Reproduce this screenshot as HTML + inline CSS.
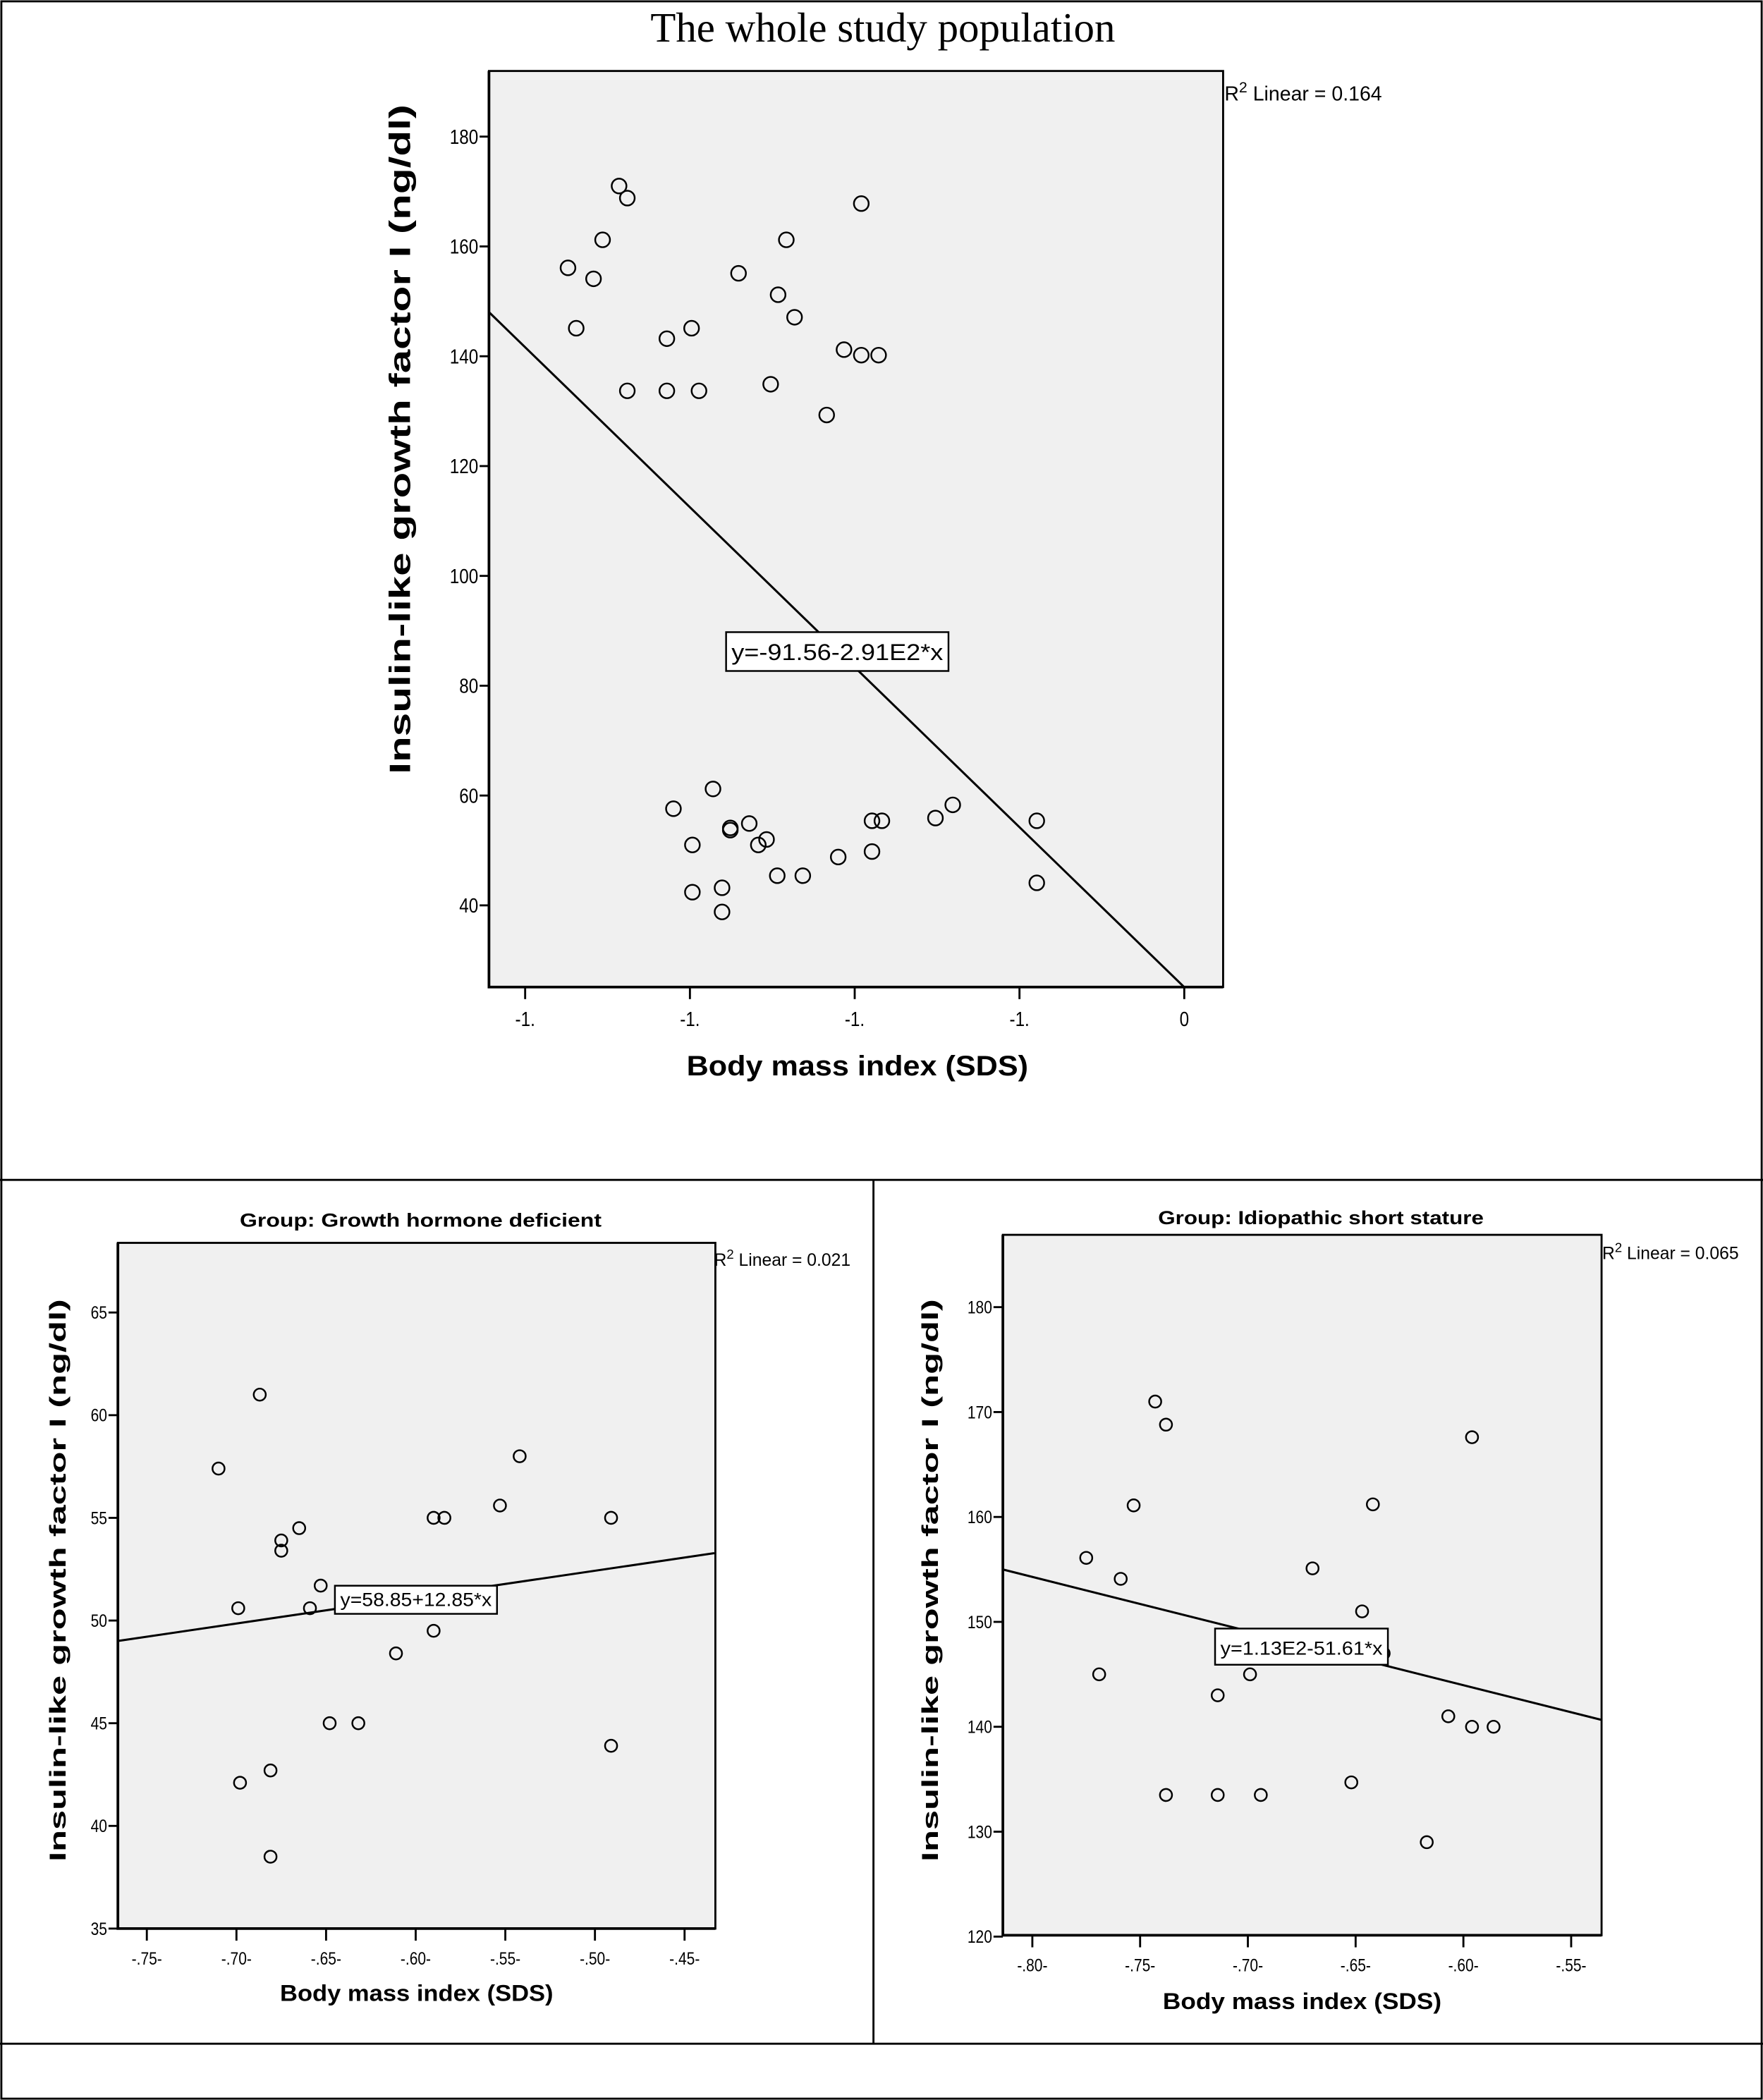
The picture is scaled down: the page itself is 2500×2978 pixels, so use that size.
<!DOCTYPE html>
<html><head><meta charset="utf-8">
<style>
html,body{margin:0;padding:0;background:#fff;}
svg{display:block;}
text{font-family:"Liberation Sans",Arial,sans-serif;fill:#000;}
</style></head>
<body>
<svg id="fig" xmlns="http://www.w3.org/2000/svg" width="2500" height="2978" viewBox="0 0 1316 1568" preserveAspectRatio="none">
<rect x="0" y="0" width="1316" height="1568" fill="#fff"/>
<rect x="1" y="1" width="1314" height="1566" fill="none" stroke="#000" stroke-width="1.5"/>
<line x1="0" y1="881" x2="1316" y2="881" stroke="#000" stroke-width="1.5"/>
<line x1="652" y1="881" x2="652" y2="1526" stroke="#000" stroke-width="1.5"/>
<line x1="0" y1="1526" x2="1316" y2="1526" stroke="#000" stroke-width="1.5"/>
<text x="659" y="31" text-anchor="middle" style="font-family:'Liberation Serif',serif;font-size:31px">The whole study population</text>
<g id="p1"></g>
<g id="p2"></g>
<g id="p3"></g>
</svg>
<script>
// ---- Plot 1: whole study population ----
const p1X = [-0.748,-0.738,-0.717,-0.706,-0.686,-0.676,-0.676,-0.628,-0.628,-0.598,-0.589,-0.541,-0.502,-0.493,-0.483,-0.473,-0.434,-0.413,-0.392,-0.392,-0.371,
 -0.620,-0.597,-0.597,-0.572,-0.561,-0.561,-0.551,-0.551,-0.528,-0.517,-0.507,-0.494,-0.463,-0.420,-0.379,-0.379,-0.367,-0.302,-0.281,-0.179,-0.179];
const p1Y = [156.1,145.1,154.1,161.2,171.0,168.8,133.7,143.2,133.7,145.1,133.7,155.1,134.9,151.2,161.2,147.1,129.3,141.2,167.8,140.2,140.2,
 57.6,51.0,42.4,61.2,43.2,38.8,54.1,53.7,54.9,51.0,52.0,45.4,45.4,48.8,55.4,49.8,55.4,55.9,58.3,55.4,44.1];
const p1YTicks = [40,60,80,100,120,140,160,180];
const p1XTicks = [-0.8,-0.6,-0.4,-0.2,0];
const p1XTickLabels = ["-1.","-1.","-1.","-1.","0"];
const p1RegX = [-0.844, 0];
const p1RegY = [148.05, 25.1];

// ---- Plot 2: Growth hormone deficient ----
const p2X = [-0.710,-0.699,-0.698,-0.687,-0.675,-0.675,-0.665,-0.681,-0.681,-0.659,-0.653,-0.648,-0.632,-0.611,-0.590,-0.590,-0.584,-0.553,-0.542,-0.491,-0.491];
const p2Y = [57.4,50.6,42.1,61.0,53.9,53.4,54.5,42.7,38.5,50.6,51.7,45.0,45.0,48.4,55.0,49.5,55.0,55.6,58.0,55.0,43.9];
const p2YTicks = [35,40,45,50,55,60,65];
const p2XTicks = [-0.75,-0.70,-0.65,-0.60,-0.55,-0.50,-0.45];
const p2XTickLabels = ["-.75-","-.70-","-.65-","-.60-","-.55-","-.50-","-.45-"];
const p2Coef = [58.85, 12.85];

// ---- Plot 3: Idiopathic short stature ----
const p3X = [-0.743,-0.738,-0.753,-0.775,-0.759,-0.769,-0.738,-0.714,-0.714,-0.699,-0.694,-0.670,-0.647,-0.642,-0.637,-0.652,-0.617,-0.607,-0.596,-0.596,-0.586];
const p3Y = [171.0,168.8,161.1,156.1,154.1,145.0,133.5,143.0,133.5,145.0,133.5,155.1,151.0,161.2,147.0,134.7,129.0,141.0,167.6,140.0,140.0];
const p3YTicks = [120,130,140,150,160,170,180];
const p3XTicks = [-0.80,-0.75,-0.70,-0.65,-0.60,-0.55];
const p3XTickLabels = ["-.80-","-.75-","-.70-","-.65-","-.60-","-.55-"];
const p3Coef = [113, -51.61];

const NS = "http://www.w3.org/2000/svg";
function mk(parent, tag, attrs, txt){
  const e = document.createElementNS(NS, tag);
  for (const k in attrs) e.setAttribute(k, attrs[k]);
  if (txt !== undefined) e.textContent = txt;
  parent.appendChild(e);
  return e;
}
function linScale(d0,d1,r0,r1){ return v => r0 + (v-d0)/(d1-d0)*(r1-r0); }

let clipN = 0;
function drawPlot(g, cfg){
  const sx = linScale(cfg.xa[0], cfg.xa[2], cfg.xa[1], cfg.xa[3]);
  const sy = linScale(cfg.ya[0], cfg.ya[2], cfg.ya[1], cfg.ya[3]);
  const cid = 'clip' + (clipN++);
  const cp = mk(g,'clipPath',{id:cid});
  mk(cp,'rect',{x:cfg.L,y:cfg.T,width:cfg.R-cfg.L,height:cfg.B-cfg.T});
  const bg = mk(g,'rect',{x:cfg.L,y:cfg.T,width:cfg.R-cfg.L,height:cfg.B-cfg.T,fill:'#f0f0f0',stroke:'#000','stroke-width':1.5});
  
  
  const ax = mk(g,'path',{d:`M${cfg.L},${cfg.T} V${cfg.B} H${cfg.R}`,fill:'none',stroke:'#000','stroke-width':2});
  
  
  cfg.yTicks.forEach(v=>{
    const y = sy(v);
    const t = mk(g,'line',{x1:cfg.L-7,y1:y,x2:cfg.L,y2:y,stroke:'#000','stroke-width':1.5});
    
    
    const l = mk(g,'text',{x:cfg.L-8,y:y+cfg.tfs*0.36,'text-anchor':'end','font-size':cfg.tfs,transform:`translate(${cfg.L-8},0) scale(0.85,1) translate(${-(cfg.L-8)},0)`}, String(v));
    
    
  });
  cfg.xTicks.forEach((v,i)=>{
    const x = sx(v);
    const t = mk(g,'line',{x1:x,y1:cfg.B,x2:x,y2:cfg.B+9,stroke:'#000','stroke-width':1.5});
    
    
    const l = mk(g,'text',{x:x,y:cfg.B+cfg.tfs+14,'text-anchor':'middle','font-size':cfg.tfs,transform:`translate(${x},0) scale(0.85,1) translate(${-x},0)`}, cfg.xLabels[i]);
    
    
  });
  const rl = mk(g,'line',{x1:sx(cfg.regX[0]),y1:sy(cfg.regY[0]),x2:sx(cfg.regX[1]),y2:sy(cfg.regY[1]),stroke:'#000','stroke-width':1.6,'clip-path':`url(#${cid})`});
  
  
  cfg.xs.forEach((xv,i)=>{
    const c = mk(g,'circle',{cx:sx(xv),cy:sy(cfg.ys[i]),r:cfg.r,fill:'none',stroke:'#000','stroke-width':1.3});
    
    
  });
  const eb = cfg.eq;
  const br = mk(g,'rect',{x:eb.x,y:eb.y,width:eb.w,height:eb.h,fill:'#fff',stroke:'#000','stroke-width':1.3});
  
  
  const et = mk(g,'text',{x:eb.x+4,y:eb.y+eb.h*0.72,'font-size':eb.fs,textLength:eb.w-8,lengthAdjust:'spacingAndGlyphs'}, eb.text);
  
  
  const r2 = mk(g,'text',{x:cfg.r2[0],y:cfg.r2[1],'font-size':cfg.r2[2]});
  
  
  mk(r2,'tspan',{},'R');
  mk(r2,'tspan',{dy:-cfg.r2[2]*0.4,'font-size':cfg.r2[2]*0.75},'2');
  mk(r2,'tspan',{dy:cfg.r2[2]*0.4},' Linear = '+cfg.r2[4]);
  const xt = mk(g,'text',{x:cfg.xt[0],y:cfg.xt[1],'text-anchor':'middle','font-size':cfg.xt[2],'font-weight':'bold',textLength:cfg.xt[3],lengthAdjust:'spacingAndGlyphs'},'Body mass index (SDS)');
  
  
  const yt = mk(g,'text',{x:0,y:0,'text-anchor':'middle','font-size':cfg.yt[2],'font-weight':'bold',textLength:cfg.yt[3],lengthAdjust:'spacingAndGlyphs',transform:`translate(${cfg.yt[0]},${cfg.yt[1]}) rotate(-90)`},'Insulin-like growth factor I (ng/dl)');
  
  
  if (cfg.title){
    const tt = mk(g,'text',{x:cfg.title[0],y:cfg.title[1],'text-anchor':'middle','font-size':cfg.title[2],'font-weight':'bold',textLength:cfg.title[3],lengthAdjust:'spacingAndGlyphs'},cfg.title[4]);
    
    
  }
}

drawPlot(document.getElementById('p1'),{
  L:365,R:913,T:53,B:737, xa:[-0.8,392,0,884], ya:[180,102,40,676],
  xs:p1X, ys:p1Y, xTicks:p1XTicks, xLabels:p1XTickLabels, yTicks:p1YTicks,
  regX:p1RegX, regY:p1RegY, r:5.5, tfs:15,
  eq:{x:542,y:472,w:166,h:29,fs:17,text:'y=-91.56-2.91E2*x'},
  r2:[914,75,15,0,'0.164'],
  xt:[640,803,21,255], yt:[306,328,22,500]
});
drawPlot(document.getElementById('p2'),{
  L:88,R:534,T:928,B:1440, xa:[-0.75,109.6,-0.45,511], ya:[35,1440,65,980],
  xs:p2X, ys:p2Y, xTicks:p2XTicks, xLabels:p2XTickLabels, yTicks:p2YTicks,
  regX:[-0.7769,-0.4334], regY:[p2Coef[0]+p2Coef[1]*-0.7769, p2Coef[0]+p2Coef[1]*-0.4334], r:4.5, tfs:13,
  eq:{x:250,y:1184,w:121,h:21,fs:14,text:'y=58.85+12.85*x'},
  r2:[533,945,13,0,'0.021'],
  xt:[311,1494,17,204], yt:[49,1180,17,420],
  title:[314,916,14,270,'Group: Growth hormone deficient']
});
drawPlot(document.getElementById('p3'),{
  L:748.6,R:1195.5,T:922,B:1445, xa:[-0.80,770.6,-0.55,1172.8], ya:[120,1446,180,976],
  xs:p3X, ys:p3Y, xTicks:p3XTicks, xLabels:p3XTickLabels, yTicks:p3YTicks,
  regX:[-0.8137,-0.5357], regY:[p3Coef[0]+p3Coef[1]*-0.8137, p3Coef[0]+p3Coef[1]*-0.5357], r:4.5, tfs:13,
  eq:{x:907,y:1216,w:129,h:27,fs:14,text:'y=1.13E2-51.61*x'},
  r2:[1196,940,13,0,'0.065'],
  xt:[972,1500,17,208], yt:[700,1180,17,420],
  title:[986,914,14,243,'Group: Idiopathic short stature']
});
</script>
</body></html>
